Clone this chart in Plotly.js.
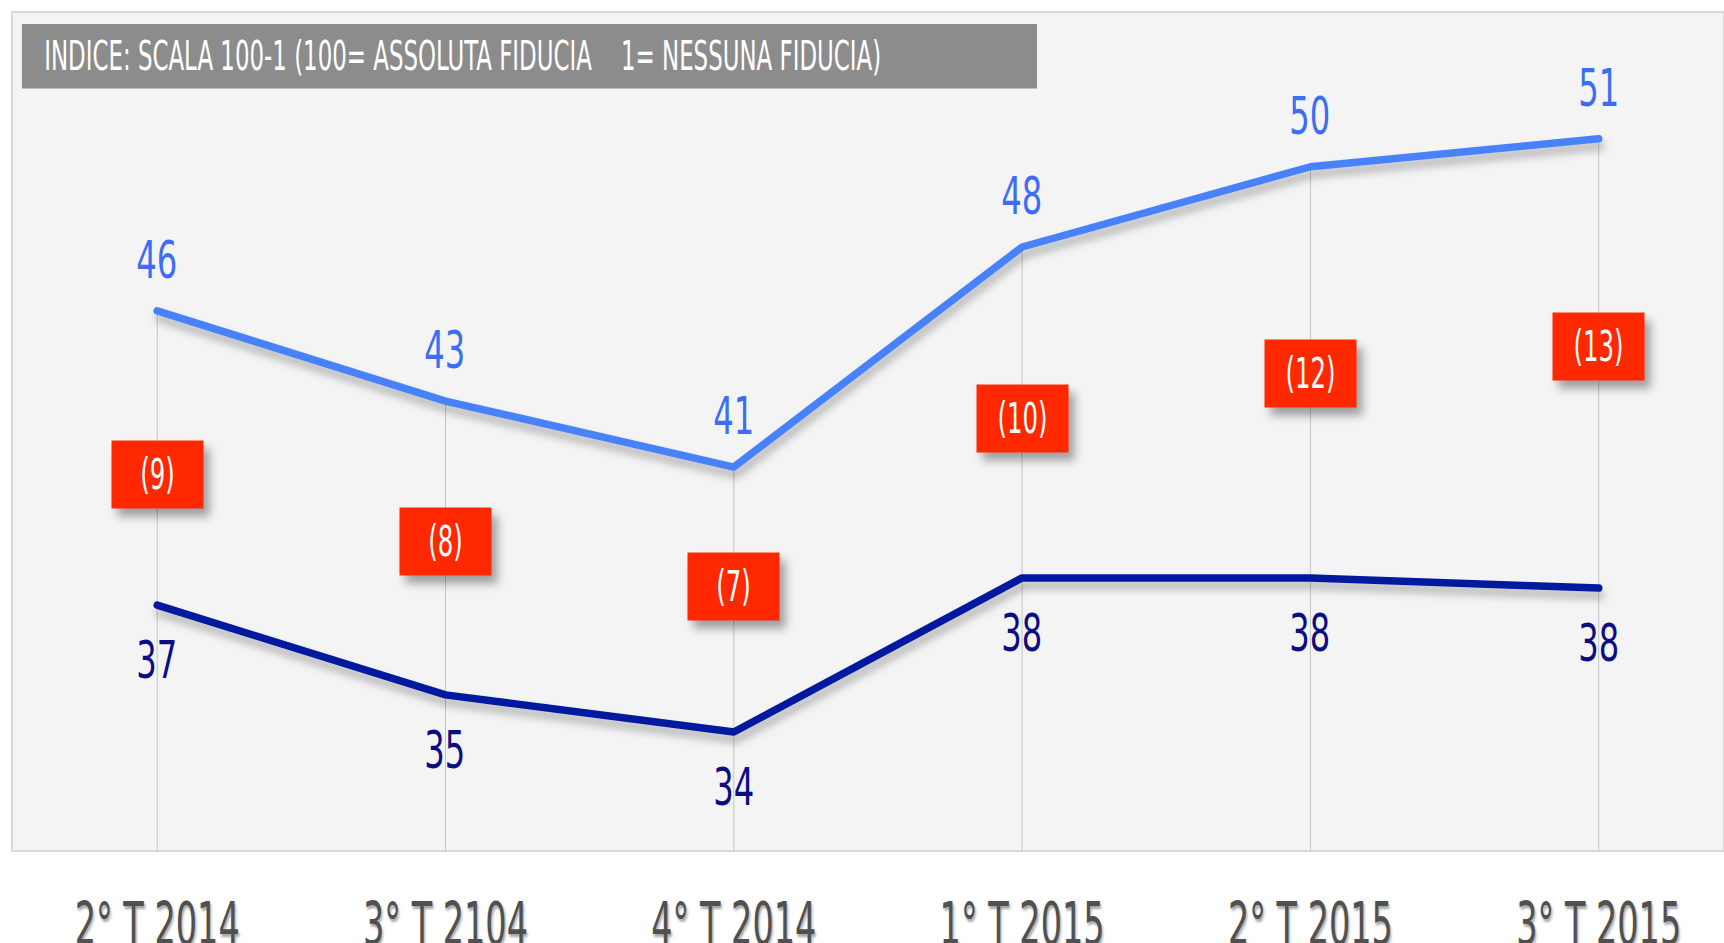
<!DOCTYPE html>
<html>
<head>
<meta charset="utf-8">
<script src="https://cdn.plot.ly/plotly-3.0.1.min.js"></script>
<style>
  html, body { margin: 0; padding: 0; background: #ffffff; }
  #chart { width: 1724px; height: 943px; }
  .scatterlayer .js-line {
    filter: drop-shadow(2px 7px 4px rgba(0,0,0,0.28));
    stroke-linecap: round !important;
    stroke-linejoin: round !important;
  }
  .annotation rect.bg { filter: drop-shadow(6px 8px 5px rgba(0,0,0,0.35)); }
</style>
</head>
<body>
<div id="chart"></div>
<script>
// ---- data ----
const categories = ['2° T 2014', '3° T 2104', '4° T 2014', '1° T 2015', '2° T 2015', '3° T 2015'];
const serieAlta  = [46.0, 43.35, 41.41, 47.88, 50.24, 51.06];   // upper (light blue) series
const serieBassa = [37.35, 34.71, 33.62, 38.15, 38.15, 37.85];  // lower (dark blue) series
const gapBoxLevel = [41.19, 39.22, 37.91, 42.84, 44.16, 44.96]; // level of the red gap boxes
const titleText = 'INDICE: SCALA 100-1 (100= ASSOLUTA FIDUCIA &nbsp;&nbsp; 1= NESSUNA FIDUCIA)';

const labelsAlta  = serieAlta.map(v => Math.round(v));
const labelsBassa = serieBassa.map(v => Math.round(v));
const gaps = labelsAlta.map((v, i) => v - labelsBassa[i]);

const FONT = "'Liberation Sans Narrow', 'DejaVu Sans Condensed', 'Liberation Sans', sans-serif";
const LIGHT = '#4882fa', DARK = '#00199f';
const LIGHT_TXT = '#3b6ef2', DARK_TXT = '#0c0c86';
const RED = '#ff2800';

const traces = [
  { x: categories, y: serieAlta, type: 'scatter', mode: 'lines', name: 'Alta',
    line: { color: LIGHT, width: 7.5 }, hoverinfo: 'skip' },
  { x: categories, y: serieBassa, type: 'scatter', mode: 'lines', name: 'Bassa',
    line: { color: DARK, width: 7.5 }, hoverinfo: 'skip' }
];

const shapes = [
  { type: 'rect', xref: 'paper', yref: 'paper', x0: 0, x1: 1, y0: 0, y1: 1,
    line: { color: '#d9d9d9', width: 2 }, fillcolor: 'rgba(0,0,0,0)', layer: 'below' },
  { type: 'rect', xref: 'paper', yref: 'paper', x0: 0.0058, x1: 0.5987, y0: 0.9088, y1: 0.9857,
    line: { width: 0 }, fillcolor: '#8c8c8c', layer: 'below' }
];
const yBottom = 30.12;
categories.forEach((c, i) => {
  shapes.push({ type: 'line', xref: 'x', yref: 'y', x0: i, x1: i, y0: serieAlta[i], y1: yBottom,
    line: { color: '#c4c4c4', width: 1 }, layer: 'below' });
});

const annotations = [
  { xref: 'paper', yref: 'paper', x: 0.2629, y: 0.9476, xanchor: 'center', yanchor: 'middle',
    text: titleText, showarrow: false, font: { family: FONT, size: 40, color: '#ffffff' } }
];
categories.forEach((c, i) => {
  annotations.push({ x: i, y: serieAlta[i], xref: 'x', yref: 'y', yshift: 51, yanchor: 'middle',
    text: String(labelsAlta[i]), showarrow: false, font: { family: FONT, size: 52, color: LIGHT_TXT } });
  annotations.push({ x: i, y: serieBassa[i], xref: 'x', yref: 'y', yshift: -55, yanchor: 'middle',
    text: String(labelsBassa[i]), showarrow: false, font: { family: FONT, size: 52, color: DARK_TXT } });
  annotations.push({ x: i, y: gapBoxLevel[i], xref: 'x', yref: 'y', xanchor: 'center', yanchor: 'middle',
    text: '(' + gaps[i] + ')', showarrow: false, bgcolor: RED, width: 91, height: 67, borderpad: 0,
    font: { family: FONT, size: 42, color: '#ffffff' } });
});

const layout = {
  width: 1724, height: 943,
  margin: { l: 12, r: 0, t: 12, b: 92 },
  paper_bgcolor: '#ffffff', plot_bgcolor: '#f4f4f4',
  showlegend: false,
  xaxis: { type: 'category', range: [-0.5036, 5.4346], showgrid: false, zeroline: false, showline: false,
    ticks: '', ticklabelstandoff: 34, fixedrange: true,
    tickfont: { family: FONT, size: 58, color: '#505050', shadow: '2px 3px 3px rgba(0,0,0,0.35)' } },
  yaxis: { range: [yBottom, 54.79], showgrid: false, zeroline: false, showline: false,
    showticklabels: false, ticks: '', fixedrange: true },
  shapes: shapes,
  annotations: annotations
};

function squeeze(nodes, refText, target) {
  nodes = Array.from(nodes);
  let ref = nodes.find(n => n.textContent.replace(/\s+/g, ' ').trim() === refText) || nodes[0];
  if (!ref) return;
  const natural = ref.getComputedTextLength();
  if (!natural) return;
  const f = target / natural;
  nodes.forEach(n => {
    const L = n.getComputedTextLength();
    n.setAttribute('textLength', (L * f).toFixed(2));
    n.setAttribute('lengthAdjust', 'spacingAndGlyphs');
  });
}

Plotly.newPlot('chart', traces, layout, { staticPlot: true, displayModeBar: false }).then(() => {
  const annTexts = Array.from(document.querySelectorAll('.annotation text.annotation-text'));
  const title = annTexts.filter(t => t.textContent.indexOf('INDICE') === 0);
  const boxes = annTexts.filter(t => t.textContent.indexOf('(') === 0);
  const nums = annTexts.filter(t => /^\d+$/.test(t.textContent.trim()));
  squeeze(title, title.length ? title[0].textContent.replace(/\s+/g, ' ').trim() : '', 837);
  squeeze(nums, '46', 41);
  squeeze(boxes, '(13)', 50);
  squeeze(document.querySelectorAll('.xtick text'), '2° T 2014', 165);
});
</script>
</body>
</html>
